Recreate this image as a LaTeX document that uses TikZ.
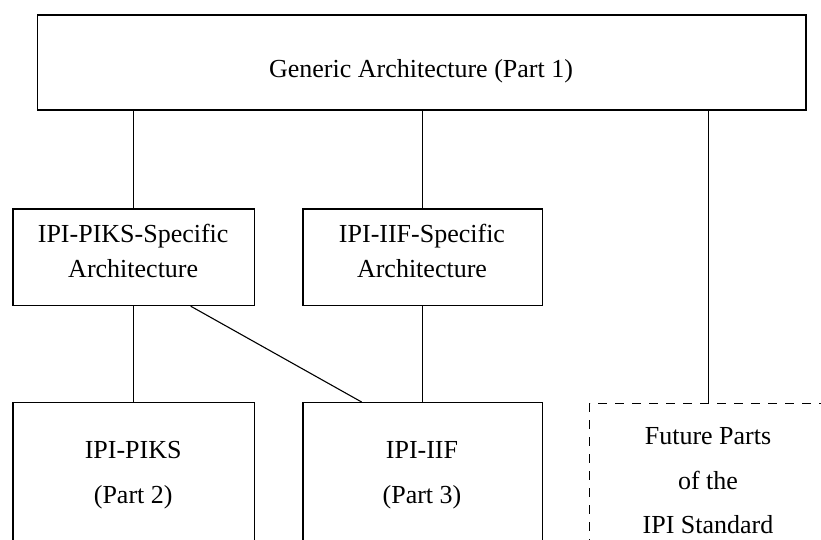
\documentclass[tikz,border=0pt]{standalone}
\usepackage{fontspec}
\setmainfont{Liberation Serif}
\begin{document}
\begin{tikzpicture}[x=1pt,y=-1pt,
  box/.style={draw,line width=1.2pt,rectangle,inner sep=0pt,anchor=north west},
  dbox/.style={box,dashed,dash pattern=on 9pt off 8pt},
  txt/.style={align=center,font=\fontsize{26}{35}\selectfont,inner sep=0pt},
  txtb/.style={align=center,font=\fontsize{26}{44.5}\selectfont,inner sep=0pt},
  link/.style={line width=1.1pt}]
\useasboundingbox (0,0) rectangle (821,539);
\clip (0,0) rectangle (821,539);
% boxes
\node[box,minimum width=768.6pt,minimum height=95pt] (gen) at (36.7,14.3) {};
\node[box,minimum width=241.7pt,minimum height=96.7pt] (ppsa) at (12.3,208.3) {};
\node[box,minimum width=239.4pt,minimum height=96.7pt] (iisa) at (302.3,208.3) {};
\node[box,minimum width=241.7pt,minimum height=170pt] (piks) at (12.3,402) {};
\node[box,minimum width=239.4pt,minimum height=170pt] (iif) at (302.3,402) {};
\node[dbox,minimum width=238pt,minimum height=170pt] (fut) at (589,402.5) {};
% texts
\node[txt] (gent) at (421,71) {Generic Architecture (Part 1)};
\node[txt] (ppsat) at (133.2,251) {IPI-PIKS-Specific\\Architecture};
\node[txt] (iisat) at (422,251) {IPI-IIF-Specific\\Architecture};
\node[txtb] (pikst) at (133.2,475) {IPI-PIKS\\(Part 2)};
\node[txtb] (iift) at (422,475) {IPI-IIF\\(Part 3)};
\node[txtb] (futt) at (708,481) {Future Parts\\of the\\IPI Standard};
% connectors
\draw[link] (ppsa.north |- gen.south) -- (ppsa.north);
\draw[link] (iisa.north |- gen.south) -- (iisa.north);
\draw[link] (fut.north |- gen.south) -- (fut.north);
\draw[link] (ppsa.south) -- (piks.north);
\draw[link] (iisa.south) -- (iif.north);
\draw[link] ([xshift=57pt]ppsa.south) -- ([xshift=-61pt]iif.north);
\end{tikzpicture}
\end{document}
